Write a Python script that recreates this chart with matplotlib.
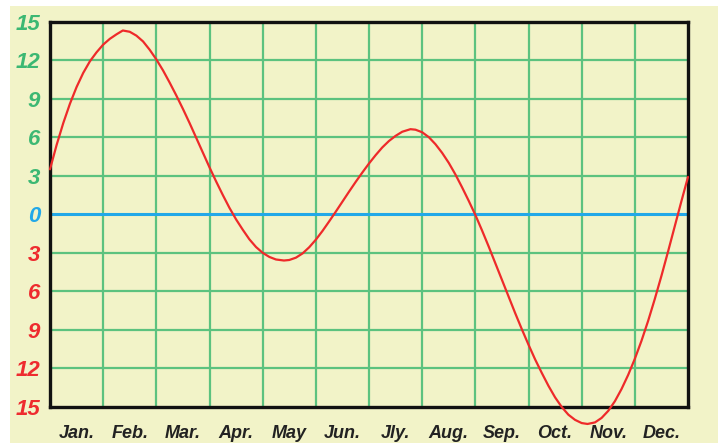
import matplotlib.pyplot as plt
from matplotlib.patches import Rectangle

months = ["Jan.", "Feb.", "Mar.", "Apr.", "May", "Jun.",
          "Jly.", "Aug.", "Sep.", "Oct.", "Nov.", "Dec."]

# curve readings: position in months (0 = left edge, 12 = right edge) and value
pos = [0.0, 0.125, 0.25, 0.375, 0.5, 0.625, 0.75, 0.875, 1.0, 1.125, 1.25, 1.37,
       1.5, 1.625, 1.75, 1.875, 2.0, 2.125, 2.25, 2.375, 2.5, 2.625, 2.75, 2.875,
       3.0, 3.125, 3.25, 3.375, 3.5, 3.625, 3.75, 3.875, 4.0, 4.125, 4.25, 4.4,
       4.5, 4.625, 4.75, 4.875, 5.0, 5.125, 5.25, 5.375, 5.5, 5.625, 5.75, 5.875,
       6.0, 6.125, 6.25, 6.375, 6.5, 6.625, 6.78, 6.875, 7.0, 7.125, 7.25, 7.375,
       7.5, 7.625, 7.75, 7.875, 8.0, 8.125, 8.25, 8.375, 8.5, 8.625, 8.75, 8.875,
       9.0, 9.125, 9.25, 9.375, 9.5, 9.625, 9.75, 9.875, 10.0, 10.11, 10.25,
       10.375, 10.5, 10.625, 10.75, 10.875, 11.0, 11.125, 11.25, 11.375, 11.5,
       11.625, 11.75, 11.875, 12.0]
vals = [3.5, 5.4, 7.1, 8.6, 9.9, 11.0, 11.9, 12.6, 13.2, 13.65, 14.0, 14.3,
        14.2, 13.9, 13.45, 12.8, 12.05, 11.2, 10.25, 9.25, 8.2, 7.1, 5.95, 4.8,
        3.65, 2.55, 1.5, 0.5, -0.4, -1.2, -1.95, -2.55, -3.0, -3.32, -3.52, -3.6,
        -3.56, -3.38, -3.05, -2.57, -1.98, -1.3, -0.56, 0.2, 0.98, 1.76, 2.52, 3.25,
        3.95, 4.6, 5.2, 5.7, 6.1, 6.42, 6.62, 6.58, 6.38, 6.0, 5.45, 4.78,
        4.0, 3.1, 2.1, 1.05, -0.05, -1.25, -2.5, -3.8, -5.1, -6.4, -7.7, -8.95,
        -10.15, -11.3, -12.35, -13.35, -14.25, -15.0, -15.6, -16.0, -16.25, -16.32, -16.2,
        -15.85, -15.3, -14.55, -13.6, -12.5, -11.25, -9.85, -8.3, -6.6, -4.8,
        -2.9, -0.95, 1.0, 2.9]

yticks = [15, 12, 9, 6, 3, 0, -3, -6, -9, -12, -15]

bg = "#f2f3c8"
grid_green = "#5cc27f"
pos_col = "#3cb873"
zero_col = "#22a8e8"
neg_col = "#ee2b2f"

plt.rcParams['font.family'] = ['Liberation Sans', 'DejaVu Sans']

fig = plt.figure(figsize=(7.18, 4.46), dpi=100)
fig.patch.set_facecolor("white")
fig.patches.append(Rectangle((10 / 718, 0.007), 1, 1 - 6 / 446 - 0.007,
                             transform=fig.transFigure, facecolor=bg,
                             edgecolor="none", zorder=-10))

ax = fig.add_axes([50 / 718, 1 - 407 / 446, 638 / 718, 385.5 / 446])
ax.set_facecolor(bg)
ax.set_xlim(0, 12)
ax.set_ylim(-15, 15)

# grid
for x in range(1, 12):
    ax.axvline(x, color=grid_green, lw=1.6, zorder=1)
for y in yticks[1:-1]:
    if y == 0:
        ax.axhline(0, color=zero_col, lw=2.2, zorder=2)
    else:
        ax.axhline(y, color=grid_green, lw=1.6, zorder=1)

ax.plot(pos, vals, color="#ee2a2a", lw=1.6, zorder=5, clip_on=False,
        solid_capstyle="round", solid_joinstyle="round")

for s in ax.spines.values():
    s.set_linewidth(2.4)
    s.set_color("#111111")
    s.set_zorder(4)

ax.set_yticks(yticks)
ax.set_yticklabels([str(abs(v)) for v in yticks])
for lab, v in zip(ax.get_yticklabels(), yticks):
    lab.set_color(pos_col if v > 0 else (zero_col if v == 0 else neg_col))
    lab.set_fontsize(16)
    lab.set_fontweight("bold")
    lab.set_fontstyle("italic")
ax.tick_params(axis="y", length=0, pad=7)

ax.set_xticks([i + 0.5 for i in range(12)])
ax.set_xticklabels(months, fontsize=13, fontweight="bold", fontstyle="italic",
                   color="#222222")
ax.tick_params(axis="x", length=0, pad=13)

fig.savefig("out.png", dpi=100, facecolor=fig.get_facecolor())
